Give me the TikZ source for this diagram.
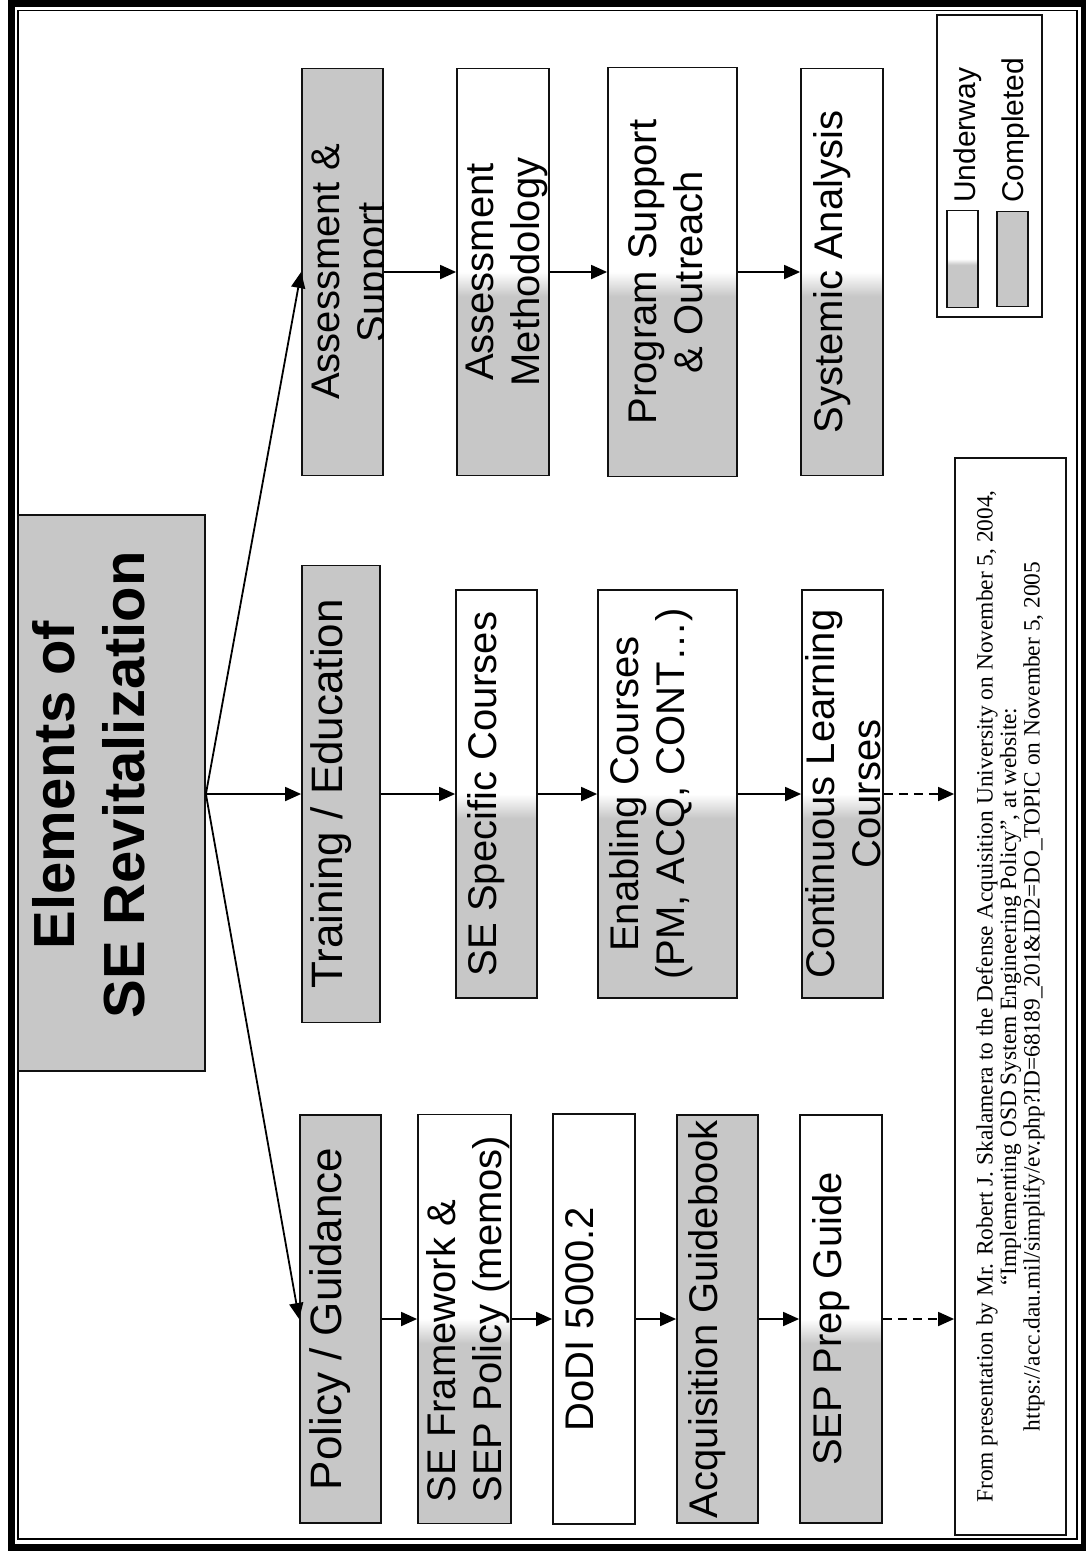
\documentclass[tikz,border=0pt]{standalone}
\usepackage{fontspec}
\setmainfont{Liberation Sans}
\newfontfamily\notefont{Liberation Serif}
\usetikzlibrary{arrows.meta,calc}
\definecolor{Ink}{HTML}{111111}
\definecolor{Shade}{gray}{0.78}
\pgfdeclareverticalshading{underway}{100bp}{color(0bp)=(Shade); color(47bp)=(Shade); color(50bp)=(white); color(100bp)=(white)}

\begin{document}
\begin{tikzpicture}[x=1pt,y=-1pt,
    box/.style={draw=Ink,line width=1.8pt,rotate=90,align=center,inner sep=0pt,
      text depth=29pt,font=\fontsize{40}{46}\selectfont},
    done/.style={box,fill=Shade},
    going/.style={box,shading=underway},
    keybox/.style={draw=Ink,line width=1.5pt,rotate=90,minimum height=31},
    link/.style={line width=1.8pt,-{Triangle[length=16pt,width=14pt]}},
    hint/.style={link,dash pattern=on 9pt off 6pt}]
  \useasboundingbox (0,0) rectangle (1086,1553);
  % double frame
  \draw[line width=7pt] (11,3) rectangle (1084,1547);
  \draw[line width=1.8pt] (18,10.5) rectangle (1077,1539);

  % title
  \node[done,minimum width=556,minimum height=187] (title) at (111.5,793) {};
  \node[rotate=90,align=center,inner sep=0pt,font=\fontsize{58}{70}\selectfont\bfseries] (titletext) at (89,785) {Elements of\\SE Revitalization};

  % policy / guidance
  \node[done,minimum width=408,minimum height=81,font=\fontsize{44}{50}\selectfont] (pol) at (340.5,1319) {Policy / Guidance};
  \node[going,minimum width=409,minimum height=93,align=left,text depth=0pt] (sefw) at (464.5,1319) {SE Framework \&\\SEP Policy (memos)};
  \node[box,fill=white,minimum width=410,minimum height=82] (dodi) at (594,1319) {DoDI 5000.2};
  \node[done,minimum width=408,minimum height=81] (acq) at (717.5,1319) {Acquisition Guidebook};
  \node[going,minimum width=408,minimum height=82] (sepg) at (841,1319) {SEP Prep Guide};

  % training / education
  \node[done,minimum width=457,minimum height=78,font=\fontsize{44}{50}\selectfont] (train) at (341,794) {Training / Education};
  \node[going,minimum width=408,minimum height=81] (spec) at (496.5,794) {SE Specific Courses};
  \node[going,minimum width=408,minimum height=139,text depth=42pt] (enab) at (667.5,794) {Enabling Courses\\(PM, ACQ, CONT\ldots)};
  \node[going,minimum width=408,minimum height=81,text depth=0pt] (cont) at (842.5,794) {Continuous Learning\\Courses};

  % assessment / support
  \node[done,minimum width=407,minimum height=81] (asup) at (342.5,272) {};
  \begin{scope}
    \clip (asup.south west) rectangle (asup.north east);
    \node[rotate=90,align=center,inner sep=0pt,font=\fontsize{40}{46}\selectfont] (asuptext) at (352.5,272) {Assessment \&\\Support};
  \end{scope}
  \node[going,minimum width=407,minimum height=92,text depth=0pt] (ameth) at (503,272) {Assessment\\Methodology};
  \node[going,minimum width=409,minimum height=129,text depth=14pt] (prog) at (672.5,272) {Program Support\\\& Outreach};
  \node[going,minimum width=407,minimum height=82] (sysa) at (842,272) {Systemic Analysis};

  % source note
  \node[draw=Ink,line width=1.8pt,rotate=90,minimum width=1077,minimum height=111,align=center,inner sep=0pt,
    font=\notefont\fontsize{23.4}{23.5}\selectfont] (note) at (1010.5,996.5)
    {From presentation by Mr. Robert J. Skalamera to the Defense Acquisition University on November 5, 2004,\\
     “Implementing OSD System Engineering Policy”, at website:\hspace*{210pt}\\
     https://acc.dau.mil/simplify/ev.php?ID=68189\_201\&ID2=DO\_TOPIC on November 5, 2005};

  % legend
  \node[draw=Ink,line width=1.8pt,rotate=90,minimum width=302,minimum height=105] (legend) at (989.5,166) {};
  \node[keybox,shading=underway,minimum width=97] (uwkey) at (962.5,259) {};
  \node[keybox,fill=Shade,minimum width=95] (donekey) at (1012.5,259) {};
  \node[rotate=90,anchor=base west,inner sep=0pt,font=\fontsize{30}{36}\selectfont] (uwtext) at (975,203) {Underway};
  \node[rotate=90,anchor=base west,inner sep=0pt,font=\fontsize{30}{36}\selectfont] (donetext) at (1023,203) {Completed};

  % connectors
  \coordinate (hub) at (title.south |- train.center);
  \draw[link] (hub) -- (pol.north);
  \draw[link] (hub) -- (train.north);
  \draw[link] (hub) -- (asup.north);
  \draw[link] (pol.south) -- (sefw.north);
  \draw[link] (sefw.south) -- (dodi.north);
  \draw[link] (dodi.south) -- (acq.north);
  \draw[link] (acq.south) -- (sepg.north);
  \draw[hint] (sepg.south) -- (sepg.south -| note.north);
  \draw[link] (train.south) -- (spec.north);
  \draw[link] (spec.south) -- (enab.north);
  \draw[link] (enab.south) -- (cont.north);
  \draw[hint] (cont.south) -- (cont.south -| note.north);
  \draw[link] (asup.south) -- (ameth.north);
  \draw[link] (ameth.south) -- (prog.north);
  \draw[link] (prog.south) -- (sysa.north);
\end{tikzpicture}
\end{document}
